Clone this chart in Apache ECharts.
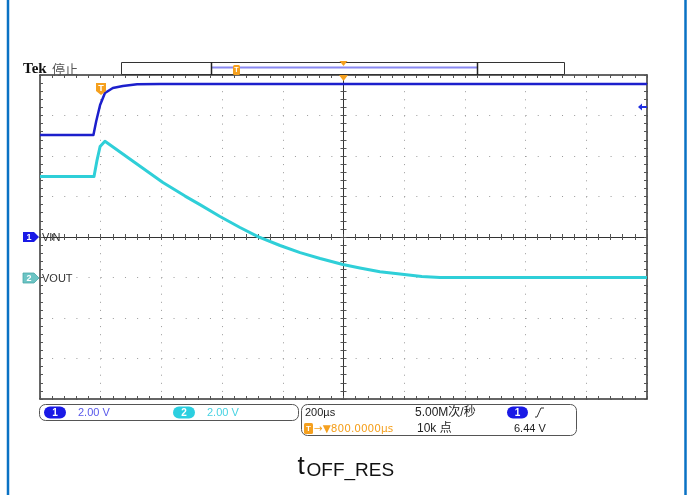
<!DOCTYPE html>
<html>
<head>
<meta charset="utf-8">
<script src="https://cdn.jsdelivr.net/npm/echarts@6/dist/echarts.min.js"></script>
<style>
html,body{margin:0;padding:0;background:#fff;}
#chart{width:688px;height:495px;}
</style>
</head>
<body>
<div id="chart"></div>
<script>
// Time in µs relative to screen centre (200 µs/div, 10 div)
const ch1Time  = [-1000, -900, -824, -815, -802, -786, -760, -727, -680, -605, -400, -200, 0, 200, 400, 600, 800, 1000];
// CH1 (VIN) volts, 2.00 V/div
const ch1Volts = [5.04, 5.04, 5.04, 5.70, 6.52, 7.11, 7.36, 7.46, 7.54, 7.56, 7.56, 7.56, 7.56, 7.56, 7.56, 7.56, 7.56, 7.56];
const ch2Time  = [-1000, -822, -812, -802, -786, -690, -595, -522, -473, -407, -341, -282, -209, -143, -77, -2, 54, 120, 186, 258, 318, 1000];
// CH2 (VOUT) volts, 2.00 V/div
const ch2Volts = [4.99, 4.99, 5.80, 6.47, 6.73, 5.70, 4.69, 4.02, 3.60, 3.01, 2.47, 2.02, 1.58, 1.23, 0.94, 0.64, 0.47, 0.28, 0.17, 0.05, 0.00, 0.00];

const timeMin = -1000, timeMax = 1000, timeDiv = 200;
const ch1Min = -8, ch1Max = 8, voltDiv = 2;
const ch2Min = -6, ch2Max = 10;

const chart = echarts.init(document.getElementById('chart'), null, {renderer: 'canvas'});

const tickCol = '#555';
function xAx(pos, onZero, extra) {
  return Object.assign({
    type: 'value', position: pos, min: timeMin, max: timeMax, interval: timeDiv,
    axisLabel: {show: false}, splitLine: {show: false},
    axisLine: {show: true, onZero: onZero, onZeroAxisIndex: 0, lineStyle: {color: '#333', width: onZero ? 1 : 1.5}},
    axisTick: {show: true, inside: true, length: 3, lineStyle: {color: tickCol}},
    minorTick: {show: true, splitNumber: 5, length: 3, lineStyle: {color: tickCol}}
  }, extra || {});
}
function yAx(pos, onZero, extra) {
  return Object.assign({
    type: 'value', position: pos, min: ch1Min, max: ch1Max, interval: voltDiv,
    axisLabel: {show: false}, splitLine: {show: false},
    axisLine: {show: true, onZero: onZero, onZeroAxisIndex: 0, lineStyle: {color: '#333', width: onZero ? 1 : 1.5}},
    axisTick: {show: true, inside: true, length: 3, lineStyle: {color: tickCol}},
    minorTick: {show: true, splitNumber: 5, length: 3, lineStyle: {color: tickCol}}
  }, extra || {});
}

const F = '"Liberation Sans", Arial, sans-serif';
const FC = '"Liberation Sans", "Noto Sans CJK SC", sans-serif';
function txt(x, y, s, font, fill, align) {
  return {type: 'text', z: 120, style: {x: x, y: y, text: s, font: font, fill: fill,
    textAlign: align || 'left', align: align || 'left', textVerticalAlign: 'middle', verticalAlign: 'middle'}};
}
function pill(x, y, w, h, fill, label, labelFill) {
  return [
    {type: 'rect', z: 99, shape: {x: x, y: y, width: w, height: h, r: h / 2}, style: {fill: fill}},
    txt(x + w / 2, y + h / 2 + 0.5, label, 'bold 10px ' + F, labelFill || '#fff', 'center')
  ];
}

const orange = '#f5a01e';
const graphics = [
  // blue frame
  {type: 'line', z: 100, shape: {x1: 8, y1: 0, x2: 8, y2: 495}, style: {stroke: '#0a72c4', lineWidth: 2.5}},
  {type: 'line', z: 100, shape: {x1: 685.5, y1: 0, x2: 685.5, y2: 495}, style: {stroke: '#0a72c4', lineWidth: 2.5}},
  // Tek header
  txt(23, 69, 'Tek', 'bold 15px "Liberation Serif", serif', '#111'),
  txt(52, 69, '停止', '13px "Noto Sans CJK SC", sans-serif', '#555'),
  // record bar
  {type: 'rect', z: 100, shape: {x: 121.5, y: 62.5, width: 443, height: 12}, style: {fill: '#fff', stroke: '#333', lineWidth: 1}},
  {type: 'line', z: 101, shape: {x1: 212, y1: 67.5, x2: 477, y2: 67.5}, style: {stroke: '#8a8af2', lineWidth: 2}},
  {type: 'line', z: 101, shape: {x1: 211.5, y1: 62, x2: 211.5, y2: 75}, style: {stroke: '#222', lineWidth: 1.5}},
  {type: 'line', z: 101, shape: {x1: 477.5, y1: 62, x2: 477.5, y2: 75}, style: {stroke: '#222', lineWidth: 1.5}},
  {type: 'rect', z: 102, shape: {x: 233, y: 65, width: 7, height: 10, r: 1.5}, style: {fill: orange}},
  txt(236.5, 70, 'T', 'bold 7px ' + F, '#fff', 'center'),
  {type: 'polygon', z: 102, shape: {points: [[339.5, 61], [347.5, 61], [343.5, 66]]}, style: {fill: orange}},
  {type: 'polygon', z: 102, shape: {points: [[339, 75], [348, 75], [343.5, 81]]}, style: {fill: orange}},
  // trigger position marker in plot
  {type: 'polygon', z: 102, shape: {points: [[96, 83], [106, 83], [106, 91], [101, 95], [96, 91]]}, style: {fill: orange}},
  txt(101, 88.5, 'T', 'bold 9px ' + F, '#fff', 'center'),
  // trigger level arrow
  {type: 'polygon', z: 102, shape: {points: [[638, 107], [642, 103.5], [642, 110.5]]}, style: {fill: '#1f2ee0'}},
  {type: 'line', z: 102, shape: {x1: 641, y1: 107, x2: 647, y2: 107}, style: {stroke: '#1f2ee0', lineWidth: 2}},
  // channel markers
  {type: 'polygon', z: 102, shape: {points: [[23, 232], [34, 232], [39, 237], [34, 242], [23, 242]]}, style: {fill: '#1a1ae6'}},
  txt(29, 237.5, '1', 'bold 9px ' + F, '#fff', 'center'),
  txt(42, 237.5, 'VIN', '11px ' + F, '#333'),
  {type: 'polygon', z: 102, shape: {points: [[23, 273], [34, 273], [39, 278], [34, 283], [23, 283]]}, style: {fill: '#6cc4c4', stroke: '#4aa8a8', lineWidth: 0.8}},
  txt(29, 278.5, '2', 'bold 9px ' + F, '#fff', 'center'),
  txt(42, 278.5, 'VOUT', '11px ' + F, '#333'),
  // bottom status boxes
  {type: 'rect', z: 100, shape: {x: 39.5, y: 404.5, width: 259, height: 16, r: 6}, style: {fill: 'none', stroke: '#555', lineWidth: 1}},
  {type: 'rect', z: 100, shape: {x: 301.5, y: 404.5, width: 275, height: 31, r: 6}, style: {fill: 'none', stroke: '#555', lineWidth: 1}},
  ...pill(44, 406.5, 22, 12, '#1a1ae6', '1'),
  txt(78, 412.5, '2.00 V', '11px ' + F, '#5858ea'),
  ...pill(173, 406.5, 22, 12, '#2ccfe0', '2'),
  txt(207, 412.5, '2.00 V', '11px ' + F, '#46d2e2'),
  txt(305, 412.5, '200µs', '11px ' + F, '#222'),
  txt(415, 412.5, '5.00M次/秒', '12px ' + FC, '#222'),
  ...pill(507, 406.5, 21, 12, '#1a1ae6', '1'),
  {type: 'polyline', z: 100, shape: {points: [[535, 417], [537, 417], [541, 408], [544, 408]]}, style: {stroke: '#333', lineWidth: 1, fill: 'none'}},
  {type: 'rect', z: 100, shape: {x: 304, y: 423, width: 9, height: 11, r: 1.5}, style: {fill: orange}},
  txt(308.5, 429, 'T', 'bold 8px ' + F, '#fff', 'center'),
  txt(314, 429, '→▼800.0000µs', '10.5px "DejaVu Sans", ' + F, orange),
  txt(417, 429, '10k 点', '12px ' + FC, '#222'),
  txt(514, 429, '6.44 V', '11px ' + F, '#222'),
  // caption
  txt(297.5, 467, 't', '26px ' + F, '#111'),
  txt(306.5, 471, 'OFF_RES', '19px ' + F, '#111')
];

const option = {
  animation: false,
  backgroundColor: '#fff',
  grid: {left: 40, top: 75, width: 607, height: 324, containLabel: false},
  xAxis: [
    xAx('bottom', false, {splitLine: {show: true, lineStyle: {color: '#9a9a9a', width: 1, type: [1, 7.1]}}}),
    xAx('top', false),
    xAx('bottom', true),
    xAx('top', true)
  ],
  yAxis: [
    yAx('left', false, {splitLine: {show: true, lineStyle: {color: '#9a9a9a', width: 1, type: [1, 11.14]}}}),
    yAx('right', false),
    yAx('left', true),
    yAx('right', true),
    {type: 'value', show: false, min: ch2Min, max: ch2Max, interval: voltDiv}
  ],
  series: [
    {
      name: 'VOUT', type: 'line', xAxisIndex: 0, yAxisIndex: 4, z: 4,
      symbol: 'none', showSymbol: false,
      lineStyle: {color: '#2fcfd8', width: 3, join: 'round'},
      data: ch2Time.map((t, i) => [t, ch2Volts[i]])
    },
    {
      name: 'VIN', type: 'line', xAxisIndex: 0, yAxisIndex: 0, z: 5,
      symbol: 'none', showSymbol: false,
      lineStyle: {color: '#1c1fcc', width: 2.5, join: 'round'},
      data: ch1Time.map((t, i) => [t, ch1Volts[i]])
    }
  ],
  graphic: {elements: graphics}
};
chart.setOption(option);
</script>
</body>
</html>
